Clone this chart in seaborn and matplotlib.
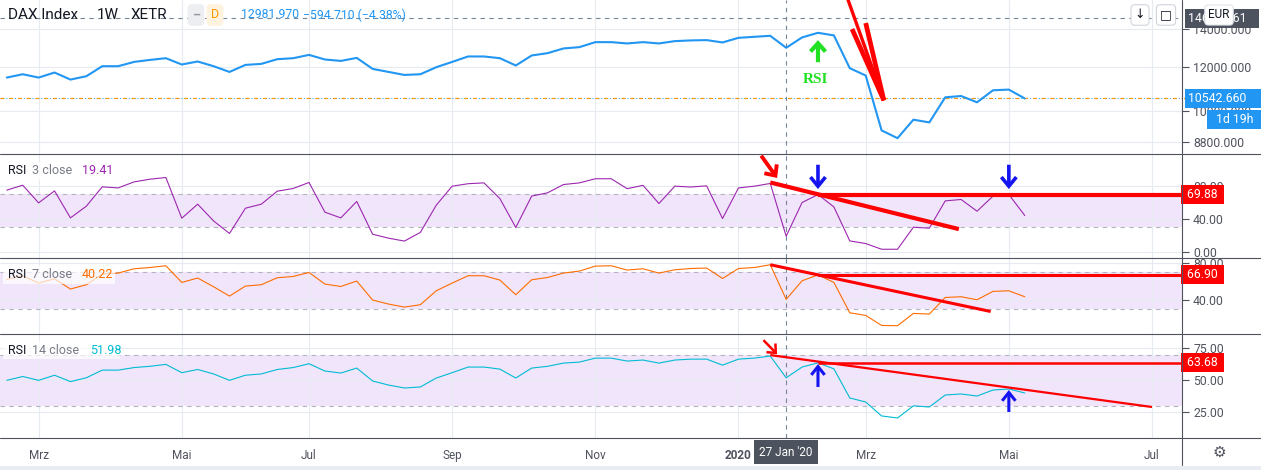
import matplotlib
matplotlib.use("Agg")
import matplotlib.pyplot as plt
import matplotlib.dates as mdates
from matplotlib.lines import Line2D
from matplotlib.patches import Rectangle
from matplotlib.ticker import NullLocator
import pandas as pd
import seaborn as sns

# ---- values (DAX weekly, XETR) ----
first_week = "2019-02-18"
close = [11487, 11645, 11487, 11727, 11393, 11550, 12036, 12036, 12250, 12351,
         12438, 12120, 12271, 12036, 11756, 12100, 12151, 12387, 12438, 12608,
         12372, 12300, 12454, 11903, 11756, 11612, 11645, 11987, 12250, 12527,
         12527, 12438, 12071, 12578, 12698, 12946, 13016, 13286, 13286, 13215,
         13286, 13215, 13341, 13380, 13397, 13269, 13524, 13580, 13636, 12981.97,
         13546, 13805, 13658, 11937, 11584, 9246, 8957, 9663, 9555, 10593,
         10649, 10377, 10902, 10934, 10542.66]
rsi3 = [75.2, 81.2, 59.8, 74.3, 41.6, 55.8, 79.2, 77.9, 85.2, 88.5,
        90.5, 41.2, 58.2, 37.9, 22.7, 53.3, 58.2, 73.9, 77.2, 84.5,
        48.5, 41.6, 61.5, 21.8, 17.0, 13.5, 24.0, 57.0, 80.0, 83.0,
        84.0, 65.0, 30.0, 68.0, 72.0, 82.0, 84.0, 89.0, 89.0, 77.0,
        81.0, 59.0, 80.0, 79.0, 80.4, 40.8, 77.9, 80.0, 83.3, 19.41,
        60.2, 69.88, 54.9, 13.7, 10.5, 3.6, 3.6, 30.3, 29.1, 62.2,
        63.9, 49.7, 67.9, 69.9, 44.5]
rsi7 = [62.0, 66.0, 58.0, 62.7, 51.5, 56.2, 67.8, 68.9, 73.6, 75.0,
        76.9, 58.7, 63.5, 54.0, 43.8, 54.7, 56.2, 63.8, 65.2, 69.6,
        56.9, 54.3, 60.2, 39.5, 35.1, 31.8, 34.4, 49.6, 58.0, 66.0,
        66.0, 61.3, 45.3, 61.6, 64.1, 68.9, 71.1, 76.5, 76.9, 72.2,
        73.6, 68.9, 72.5, 73.9, 74.4, 63.0, 73.9, 75.0, 78.0, 40.22,
        60.5, 66.90, 58.7, 25.6, 22.7, 11.8, 11.5, 24.9, 24.2, 42.3,
        43.1, 39.8, 48.9, 49.6, 43.1]
rsi14 = [50.0, 53.0, 50.0, 54.0, 49.0, 52.0, 58.0, 58.0, 60.0, 61.0,
         62.5, 56.0, 58.5, 55.0, 50.0, 54.0, 55.0, 58.5, 60.0, 63.0,
         57.3, 55.7, 59.6, 49.5, 46.3, 44.0, 44.8, 51.8, 56.0, 60.4,
         60.4, 58.8, 51.8, 59.6, 61.0, 63.5, 64.3, 67.4, 67.4, 65.1,
         65.9, 63.5, 65.9, 66.6, 66.6, 61.9, 66.6, 67.4, 69.0, 51.98,
         60.4, 63.68, 59.0, 36.2, 33.0, 22.1, 20.5, 30.0, 29.1, 38.5,
         39.3, 37.7, 42.4, 43.2, 40.1]

month_ticks = ["2019-03-04", "2019-05-06", "2019-07-01", "2019-09-02", "2019-11-04",
               "2020-01-06", "2020-03-02", "2020-05-04", "2020-07-06"]
month_labels = ["Mrz", "Mai", "Jul", "Sep", "Nov", "2020", "Mrz", "Mai", "Jul"]
price_ticks = [8800, 10000, 12000, 14000]
rsi3_ticks = [0, 40, 80]
rsi7_ticks = [40, 80]
rsi14_ticks = [25, 50, 75]

last_price = 10542.66
cross_date = "2020-01-27"
cross_price = 14649.161

# hand drawn marks, as (date, value) on their own panel
big_arrow_tip = ("2020-03-10", 10460)
big_arrow_tails = [("2020-02-23", 15900), ("2020-02-25", 14020), ("2020-03-02", 14370)]
green_arrow = [("2020-02-10", 12236), ("2020-02-10", 13396)]
green_text = ("2020-02-09", 11407)
level_start = "2020-02-10"
rsi3_level, rsi7_level, rsi14_level = 69.88, 66.90, 63.68
rsi3_trend = [("2020-01-20", 84.5), ("2020-04-12", 28.0)]
rsi7_trend = [("2020-01-20", 78.0), ("2020-04-26", 27.0)]
rsi14_trend = [("2020-01-20", 69.8), ("2020-07-06", 29.1)]
rsi3_red_arrow = [("2020-01-16", 117.0), ("2020-01-23", 90.0)]
rsi14_red_arrow = [("2020-01-17", 81.5), ("2020-01-23", 70.5)]
rsi3_blue_arrows = [[("2020-02-10", 106.0), ("2020-02-10", 76.5)],
                    [("2020-05-04", 106.0), ("2020-05-04", 76.5)]]
rsi14_blue_arrows = [[("2020-02-10", 44.8), ("2020-02-10", 62.7)],
                     [("2020-05-04", 25.2), ("2020-05-04", 42.4)]]

# ---- figure ----
sns.set_style("white")
plt.rcParams["font.family"] = ["Roboto", "DejaVu Sans"]

W, H = 1261, 470
RIGHT = 1182
TXT = "#50535e"
GRID = "#e6ebf1"
fig = plt.figure(figsize=(W / 100, H / 100), dpi=100)


def fx(x):
    return x / W


def fy(y):
    return 1 - y / H


def panel(top, bottom):
    return fig.add_axes([0, fy(bottom), RIGHT / W, (bottom - top) / H])


def dn(d):
    return mdates.date2num(pd.Timestamp(d))


def pt(p):
    return (dn(p[0]), p[1])


weeks = pd.date_range(first_week, periods=len(close), freq="7D")
x0, x1 = pd.Timestamp("2019-02-15"), pd.Timestamp("2020-07-19 05:00")

ax_p = panel(0, 153.5)
ax3 = panel(153.5, 257.5)
ax7 = panel(257.5, 333.5)
ax14 = panel(333.5, 437.5)

sns.lineplot(x=weeks, y=close, ax=ax_p, color="#2196F3", linewidth=1.5, zorder=5)
sns.lineplot(x=weeks, y=rsi3, ax=ax3, color="#9C27B0", linewidth=0.8, zorder=5)
sns.lineplot(x=weeks, y=rsi7, ax=ax7, color="#FF6D00", linewidth=0.8, zorder=5)
sns.lineplot(x=weeks, y=rsi14, ax=ax14, color="#00BCD4", linewidth=0.8, zorder=5)

ax_p.set_yscale("log")
ax_p.set_ylim(8410, 15796)
ax3.set_ylim(-6.4, 119.6)
ax7.set_ylim(3.0, 85.9)
ax14.set_ylim(5.2, 86.7)

for ax, ticks, fmt in [(ax_p, price_ticks, "{:.3f}"), (ax3, rsi3_ticks, "{:.2f}"),
                       (ax7, rsi7_ticks, "{:.2f}"), (ax14, rsi14_ticks, "{:.2f}")]:
    ax.set_xlim(x0, x1)
    ax.set_facecolor("white")
    for s in ax.spines.values():
        s.set_visible(False)
    ax.set_xlabel("")
    ax.set_ylabel("")
    ax.yaxis.tick_right()
    ax.set_yticks(ticks)
    ax.set_yticklabels([fmt.format(t) for t in ticks])
    ax.yaxis.set_minor_locator(NullLocator())
    ax.tick_params(axis="y", direction="out", length=5, width=0.8, color=TXT,
                   pad=3, labelsize=8.8, labelcolor=TXT)
    ax.set_xticks([pd.Timestamp(d) for d in month_ticks])
    ax.grid(True, color=GRID, linewidth=0.8)
    ax.set_axisbelow(True)
    if ax is not ax14:
        ax.tick_params(axis="x", length=0, labelbottom=False)
    ax.axvline(pd.Timestamp(cross_date), color="#758696", lw=0.8,
               ls=(0, (4, 4)), zorder=4)

ax14.set_xticklabels(month_labels)
ax14.tick_params(axis="x", direction="out", length=4, width=0.8, color=TXT,
                 pad=4, labelsize=8.5, labelcolor=TXT)
ax14.get_xticklabels()[5].set_fontweight("bold")

# RSI bands
for ax in (ax3, ax7, ax14):
    ax.axhspan(30, 70, color="#932FE6", alpha=0.12, lw=0, zorder=0.5)
    for lv in (30, 70):
        ax.axhline(lv, color="#b2b5be", lw=0.8, ls=(0, (4, 4)), zorder=1)

# price lines in the top panel
ax_p.axhline(last_price, color="#2196F3", lw=0.7, ls=(0, (1, 2)), zorder=3)
ax_p.axhline(last_price, color="#FF9800", lw=0.9, ls=(0, (3, 4)), zorder=3)
ax_p.axhline(cross_price, color="#758696", lw=0.8, ls=(0, (4, 4)), zorder=3)
ax_p.plot([1.004], [last_price], marker="<", ms=5, color="#FF9800",
          transform=ax_p.get_yaxis_transform(), clip_on=False, zorder=8)


def hand_arrow(ax, tail, head, color, lw, hw, hl, ms=10):
    ax.annotate("", xy=pt(head), xytext=pt(tail),
                arrowprops=dict(arrowstyle=f"->,head_width={hw},head_length={hl}",
                                color=color, lw=lw, mutation_scale=ms,
                                shrinkA=0, shrinkB=0, clip_on=False,
                                joinstyle="miter", capstyle="butt"),
                annotation_clip=False, zorder=9)


# big red arrow in the price panel
for i, tail in enumerate(big_arrow_tails):
    ax_p.plot([dn(tail[0]), dn(big_arrow_tip[0])], [tail[1], big_arrow_tip[1]],
              color="#FF0000", lw=2.4 if i == 0 else 3.4, solid_capstyle="butt",
              clip_on=False, zorder=9)
hand_arrow(ax_p, green_arrow[0], green_arrow[1], "#22E022", 3.0, 0.45, 0.5, ms=12)
ax_p.text(dn(green_text[0]), green_text[1], "RSI", color="#22E022",
          family=["Liberation Serif", "DejaVu Serif"], fontweight="bold",
          fontsize=11, ha="center", va="center", zorder=9)

# trend lines, levels and arrows on the RSI panels
for ax, trend, lw in [(ax3, rsi3_trend, 3.0), (ax7, rsi7_trend, 2.2), (ax14, rsi14_trend, 1.6)]:
    ax.plot([dn(p[0]) for p in trend], [p[1] for p in trend], color="#FF0000",
            lw=lw, solid_capstyle="butt", zorder=7)
for ax, lv, lw in [(ax3, rsi3_level, 3.0), (ax7, rsi7_level, 2.2), (ax14, rsi14_level, 1.8)]:
    ax.hlines(lv, dn(level_start), mdates.date2num(x1), color="#FF0000", lw=lw, zorder=7)

hand_arrow(ax3, rsi3_red_arrow[0], rsi3_red_arrow[1], "#FF0000", 2.8, 0.55, 0.6)
hand_arrow(ax14, rsi14_red_arrow[0], rsi14_red_arrow[1], "#FF0000", 1.8, 0.45, 0.5)
for tail, head in rsi3_blue_arrows:
    hand_arrow(ax3, tail, head, "#1414F0", 2.6, 0.45, 0.55, ms=12)
for tail, head in rsi14_blue_arrows:
    hand_arrow(ax14, tail, head, "#1414F0", 2.2, 0.4, 0.5, ms=12)


def axis_tag(ax, val, text, fc, dx=6, dy=0, ha="left", fs=8.8, color="white"):
    ax.annotate(text, xy=(1, val), xycoords=ax.get_yaxis_transform(),
                xytext=(dx, dy), textcoords="offset pixels", ha=ha, va="center",
                fontsize=fs, color=color, annotation_clip=False, zorder=10,
                bbox=dict(boxstyle="square,pad=0.25", fc=fc, ec="none"))


axis_tag(ax_p, last_price, "10542.660    ", "#2196F3", dx=6)
axis_tag(ax_p, last_price, "  1d 19h   ", "#2196F3", dx=54, dy=-21, ha="center")
axis_tag(ax_p, cross_price, "14649.161   ", "#4c525e", dx=6)
axis_tag(ax3, rsi3_level, " 69.88 ", "#FF0000", dx=2)
axis_tag(ax7, rsi7_level, " 66.90 ", "#FF0000", dx=2)
axis_tag(ax14, rsi14_level, " 63.68 ", "#FF0000", dx=2)

ax14.annotate("27 Jan '20", xy=(pd.Timestamp(cross_date), 0), xycoords=("data", "axes fraction"),
              xytext=(0, -14.5), textcoords="offset pixels", ha="center", va="center",
              fontsize=8.5, color="white", annotation_clip=False, zorder=10,
              bbox=dict(boxstyle="square,pad=0.45", fc="#4c525e", ec="none"))

# frame lines
for y in (153.5, 257.5, 333.5, 437.5):
    fig.add_artist(Line2D([0, 1], [fy(y), fy(y)], transform=fig.transFigure,
                          color="#50535e", lw=0.8))
fig.add_artist(Line2D([fx(RIGHT), fx(RIGHT)], [fy(465), 1], transform=fig.transFigure,
                      color="#50535e", lw=0.8))
fig.add_artist(Rectangle((0, 0), 1, fy(466), transform=fig.transFigure,
                         fc="#e9ecf2", ec="none"))

# header
fig.text(fx(8), fy(15), "DAX Index", fontsize=11, color="#131722", va="center")
fig.text(fx(97), fy(15), "1W", fontsize=11, color="#131722", va="center")
fig.text(fx(131), fy(15), "XETR", fontsize=11, color="#131722", va="center")
fig.text(fx(196), fy(15), "\u2013", fontsize=9, color="#9598a1", va="center", ha="center",
         fontweight="bold", bbox=dict(boxstyle="round,pad=0.35", fc="#eceef2", ec="none"))
fig.text(fx(215), fy(15), "D", fontsize=9, color="#FF9800", va="center", ha="center",
         bbox=dict(boxstyle="round,pad=0.35", fc="#fff3e0", ec="none"))
fig.text(fx(241), fy(15), "12981.970", fontsize=8.8, color="#2196F3", va="center")
fig.text(fx(303), fy(15), "\u2212594.710 (\u22124.38%)", fontsize=8.8, color="#2196F3", va="center")

# top right buttons
fig.text(fx(1140), fy(15), "\u2193", fontsize=9, color="#131722", va="center", ha="center",
         bbox=dict(boxstyle="round,pad=0.3", fc="white", ec="#d1d4dc", lw=0.8))
fig.text(fx(1166), fy(15), "\u25a1", fontsize=9, color="#131722", va="center", ha="center",
         bbox=dict(boxstyle="round,pad=0.3", fc="white", ec="#d1d4dc", lw=0.8))
fig.text(fx(1219), fy(15), "EUR", fontsize=8.5, color="#131722", va="center", ha="center",
         bbox=dict(boxstyle="round,pad=0.3", fc="white", ec="#e0e3eb", lw=0.8), zorder=20)

# indicator legends
legends = [(170.5, "3", "19.41", "#9C27B0"), (275, "7", "40.22", "#FF6D00"),
           (350, "14", "51.98", "#00BCD4")]
for y, n, val, col in legends:
    fig.add_artist(Rectangle((fx(3), fy(y + 9)), fx(115 if n != "14" else 120) - fx(3), 18 / H,
                             transform=fig.transFigure, fc="white", alpha=0.7, ec="none"))
    fig.text(fx(8), fy(y), "RSI", fontsize=9, color="#131722", va="center")
    fig.text(fx(32), fy(y), f"{n} close", fontsize=9, color="#787b86", va="center")
    fig.text(fx(82 if n != "14" else 90), fy(y), val, fontsize=9, color=col, va="center")

fig.text(fx(1219), fy(452), "\u2699", fontsize=11, color="#50535e", va="center", ha="center",
         family=["DejaVu Sans"])

fig.savefig("out.png", dpi=100)
